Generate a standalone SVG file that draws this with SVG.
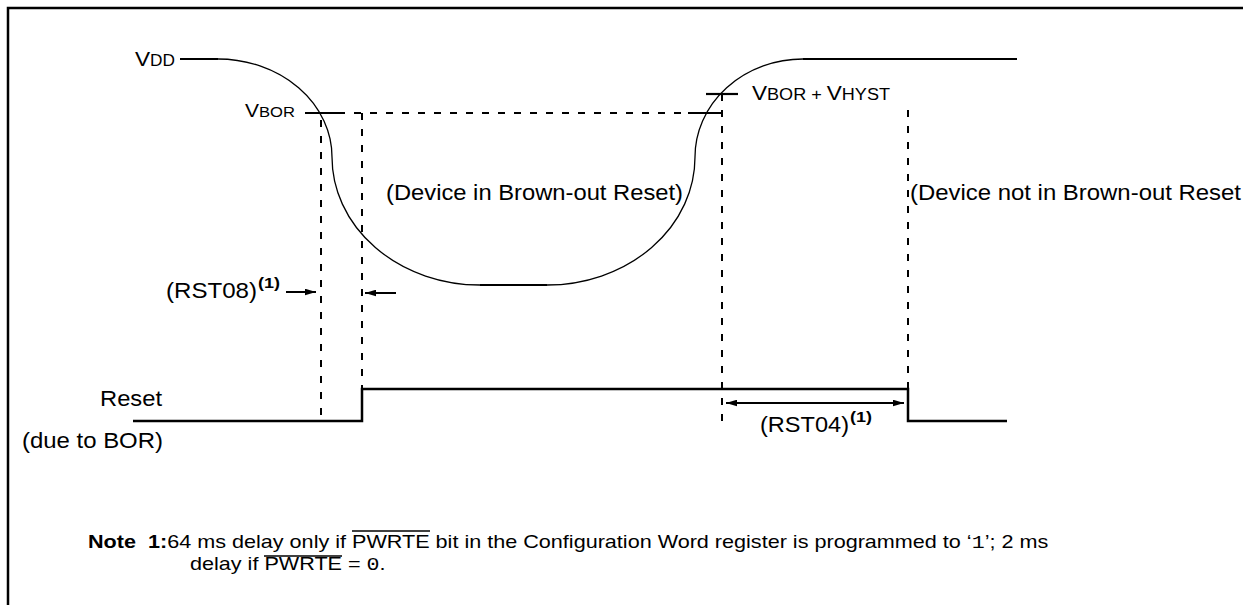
<svg xmlns="http://www.w3.org/2000/svg" width="1243" height="605" viewBox="0 0 1243 605">
<style>
.t{font-family:"Liberation Sans",Arial,Helvetica,sans-serif;fill:#000}
.big{font-size:22px}
.note{font-size:18px}
.sup{font-size:15px;font-weight:bold}
.mono{font-family:"Liberation Mono","Courier New",monospace}
.dash{stroke:#000;stroke-width:2;stroke-dasharray:7 9;fill:none}
.thin{stroke:#000;stroke-width:1.3;fill:none}
.thick{stroke:#000;stroke-width:2.2;fill:none}
.sig{stroke:#000;stroke-width:2.5;fill:none}
.arr{stroke:#000;stroke-width:2;fill:none}
.ovl{stroke:#000;stroke-width:1.4}
</style>
<defs>
<marker id="ah" viewBox="0 0 10 6" refX="10" refY="3" markerWidth="11" markerHeight="7" markerUnits="userSpaceOnUse" orient="auto-start-reverse">
<path d="M0,0 L10,3 L0,6 Z" fill="#000"/>
</marker>
</defs>
<rect width="1243" height="605" fill="#fff"/>
<path d="M8,605 V8 H1243" fill="none" stroke="#000" stroke-width="2.5"/>

<g id="vdd-curve">
<line class="thick" x1="180" y1="59" x2="218" y2="59"/>
<path class="thin" d="M218,59 A114,98 0 0 1 332,157 A148,128 0 0 0 480,285"/>
<line class="thick" x1="480" y1="285" x2="547" y2="285"/>
<path class="thin" d="M547,285 A148,128 0 0 0 695,157 A108,98 0 0 1 803,59"/>
<line class="thick" x1="803" y1="59" x2="1017" y2="59"/>
</g>

<g id="labels-voltage">
<text class="t" x="135" y="66" textLength="40" lengthAdjust="spacingAndGlyphs"><tspan font-size="21">V</tspan><tspan font-size="16">DD</tspan></text>
<text class="t" x="245" y="117" textLength="50" lengthAdjust="spacingAndGlyphs"><tspan font-size="19">V</tspan><tspan font-size="15">BOR</tspan></text>
<text class="t" x="752" y="100" textLength="138" lengthAdjust="spacingAndGlyphs"><tspan font-size="20">V</tspan><tspan font-size="16">BOR + </tspan><tspan font-size="20">V</tspan><tspan font-size="16">HYST</tspan></text>
</g>

<g id="thresholds">
<line class="thick" x1="305" y1="113" x2="338" y2="113"/>
<line class="thick" x1="688" y1="113" x2="722" y2="113"/>
<line class="thick" x1="706" y1="94" x2="738" y2="94"/>
</g>

<g id="connectors">
<path class="dash" d="M338,113 H688"/>
<path class="dash" d="M321,120 V420"/>
<path class="dash" d="M362,113 V389"/>
<path class="dash" d="M722,94 V425"/>
<path class="dash" d="M908,110 V389"/>
<line class="arr" x1="286" y1="292" x2="316" y2="292" marker-end="url(#ah)"/>
<line class="arr" x1="396" y1="293" x2="365" y2="293" marker-end="url(#ah)"/>
<line class="arr" x1="726" y1="403" x2="904" y2="403" marker-start="url(#ah)" marker-end="url(#ah)"/>
</g>

<g id="reset-signal">
<path class="sig" d="M133,421 H362 V389 H908 V421 H1007"/>
</g>

<g id="region-labels">
<text class="t big" x="386" y="200" textLength="297" lengthAdjust="spacingAndGlyphs">(Device in Brown-out Reset)</text>
<text class="t big" x="910" y="200" textLength="331" lengthAdjust="spacingAndGlyphs">(Device not in Brown-out Reset</text>
</g>

<g id="rst08">
<text class="t big" x="166" y="298" textLength="91" lengthAdjust="spacingAndGlyphs">(RST08)</text>
<text class="t sup" x="258" y="288" textLength="22" lengthAdjust="spacingAndGlyphs">(1)</text>
</g>

<g id="rst04">
<text class="t big" x="760" y="432" textLength="89" lengthAdjust="spacingAndGlyphs">(RST04)</text>
<text class="t sup" x="850" y="422" textLength="22" lengthAdjust="spacingAndGlyphs">(1)</text>
</g>

<g id="reset-label">
<text class="t big" x="100" y="406" textLength="62" lengthAdjust="spacingAndGlyphs">Reset</text>
<text class="t big" x="22" y="448" textLength="141" lengthAdjust="spacingAndGlyphs">(due to BOR)</text>
</g>

<g id="note">
<text class="t note" transform="translate(88,548) scale(1.2,1)" x="0" y="0" xml:space="preserve"><tspan font-weight="bold">Note  1:</tspan>64 ms delay only if PWRTE bit in the Configuration Word register is programmed to ‘<tspan class="mono">1</tspan>’; 2 ms</text>
<text class="t note" transform="translate(190,570) scale(1.2,1)" x="0" y="0">delay if PWRTE = <tspan class="mono">0</tspan>.</text>
<line class="ovl" x1="352" y1="531" x2="430" y2="531"/>
<line class="ovl" x1="264" y1="556" x2="342" y2="556"/>
</g>
</svg>
